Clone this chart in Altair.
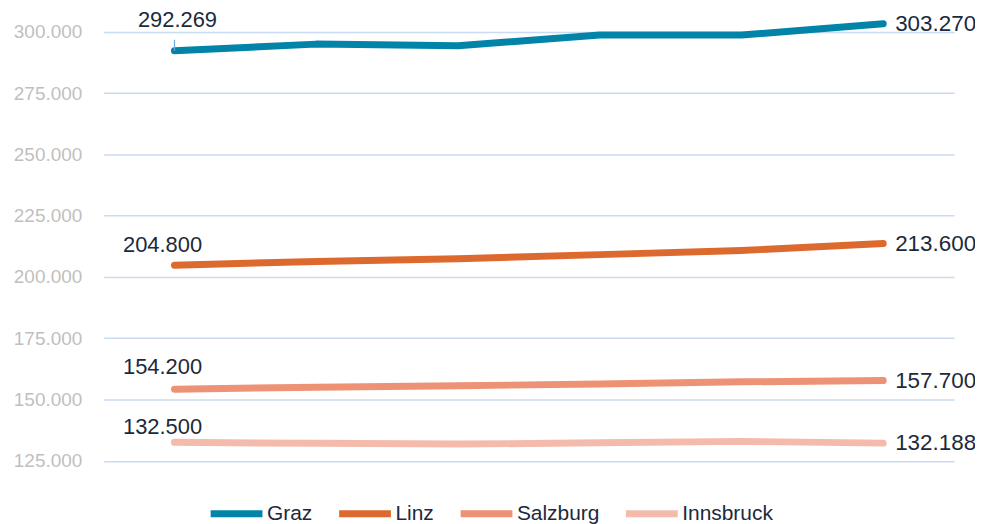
import altair as alt
import pandas as pd

cities = ["Graz", "Linz", "Salzburg", "Innsbruck"]
periods = ["P1", "P2", "P3", "P4", "P5", "P6"]
graz = [292269, 295000, 294300, 298700, 298700, 303270]
linz = [204800, 206300, 207400, 209100, 210800, 213600]
salzburg = [154200, 155000, 155600, 156300, 157200, 157700]
innsbruck = [132500, 132100, 131800, 132300, 132900, 132188]
y_ticks = [125000, 150000, 175000, 200000, 225000, 250000, 275000, 300000]
colors = ["#0284a8", "#dc6a2e", "#ee9275", "#f4bbad"]

series = dict(zip(cities, [graz, linz, salzburg, innsbruck]))
rows = []
for c in cities:
    for i, p in enumerate(periods):
        rows.append({"city": c, "period": p, "idx": i, "value": series[c][i]})
df = pd.DataFrame(rows)

FONT = "Liberation Sans"
LABEL_COLOR = "#1b2a3c"
fmt = "replace(format(datum.value, ','), ',', '.')"

x_scale = alt.Scale(type="point", padding=0.5)
x_enc = alt.X("period:O", sort=periods, axis=None, scale=x_scale)
y_scale = alt.Scale(domain=[117500, 309300], nice=False, zero=False)
y_enc = alt.Y("value:Q", scale=y_scale,
              axis=alt.Axis(values=y_ticks, title=None, domain=False, ticks=False,
                            labelExpr=fmt, labelColor="#bfbfbf", labelFontSize=19,
                            labelFont=FONT, labelPadding=22,
                            gridColor="#c9dbf0", gridWidth=1.5))
color_enc = alt.Color("city:N", sort=cities,
                      scale=alt.Scale(domain=cities, range=colors),
                      legend=alt.Legend(title=None, orient="none", direction="horizontal",
                                        legendX=104, legendY=477,
                                        symbolType="stroke", symbolSize=2704,
                                        symbolStrokeWidth=7, labelFontSize=21,
                                        labelFont=FONT, labelColor=LABEL_COLOR,
                                        labelOffset=1, columnPadding=12, padding=0))

base = alt.Chart(df)

lines = base.mark_line(strokeWidth=7, strokeCap="round", strokeJoin="round").encode(
    x=x_enc, y=y_enc, color=color_enc)

first = base.transform_filter("datum.idx == 0").transform_calculate(label=fmt)
last = base.transform_filter("datum.idx == 5").transform_calculate(label=fmt)

xs = alt.X("period:O", sort=periods, scale=x_scale)
ys = alt.Y("value:Q", scale=y_scale)

start_offsets = {"Graz": (3, -31), "Linz": (-12, -20), "Salzburg": (-12, -22), "Innsbruck": (-12, -15)}
start_layers = []
for c in cities:
    dx, dy = start_offsets[c]
    start_layers.append(
        first.transform_filter(alt.datum.city == c).mark_text(
            font=FONT, fontSize=22, color=LABEL_COLOR, align="center",
            baseline="middle", dx=dx, dy=dy).encode(x=xs, y=ys, text="label:N"))

end_labels = last.mark_text(font=FONT, fontSize=22.5, color=LABEL_COLOR, align="left",
                            baseline="middle", dx=12).encode(x=xs, y=ys, text="label:N")

leader = first.transform_filter(alt.datum.city == "Graz").transform_calculate(
    top="datum.value + 4500").mark_rule(color="#6fa8dc", strokeWidth=1.2).encode(
    x=xs, y=ys, y2="top:Q")

chart = alt.layer(lines, leader, end_labels, *start_layers).properties(
    width=854, height=472,
    autosize=alt.AutoSizeParams(type="none"),
    padding={"left": 96, "top": 0, "right": 21, "bottom": 44},
).configure(background="white").configure_view(stroke=None)

chart.save("out.html", embed_options={"renderer": "svg", "actions": False})
